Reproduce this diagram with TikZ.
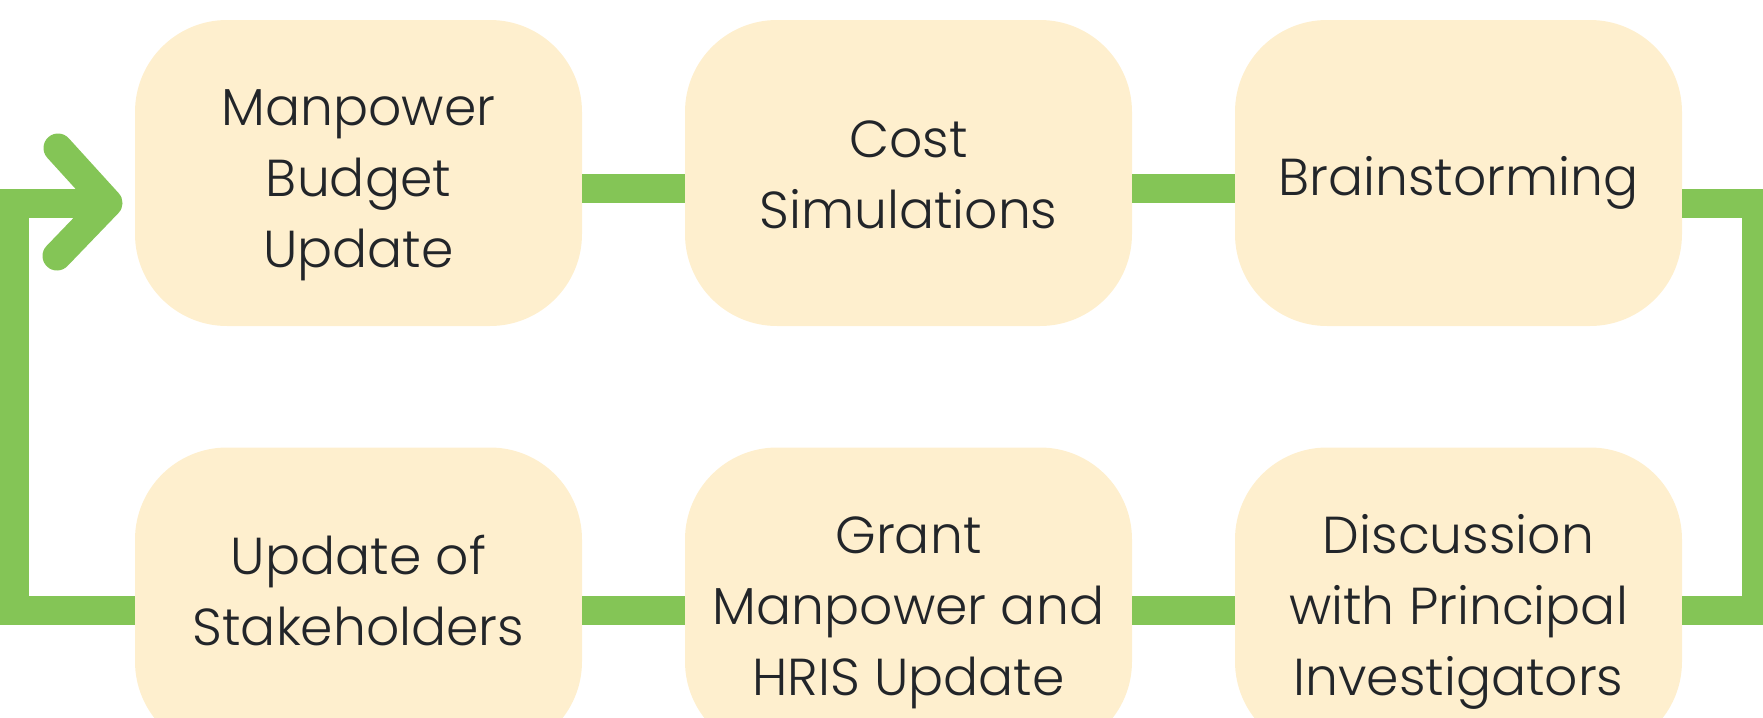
\documentclass[tikz,border=0pt]{standalone}
\usepackage{fontspec}
\setmainfont{Poppins}[UprightFont=* Light, BoldFont=* Medium]
\definecolor{flowgreen}{HTML}{84C556}
\definecolor{boxfill}{HTML}{FEEFCE}
\definecolor{boxtext}{HTML}{222529}
\begin{document}
\begin{tikzpicture}[x=0.5pt,y=-0.5pt,
  stagebox/.style={fill=boxfill, draw=none, rounded corners=46pt,
    minimum width=223.5pt, minimum height=153pt, inner sep=0pt},
  stagetext/.style={align=center, text=boxtext, inner sep=0pt,
    font=\fontsize{26pt}{35.5pt}\selectfont},
  conn/.style={draw=flowgreen, line width=14.5pt}]
\useasboundingbox (0,0) rectangle (1763,718);
\clip (0,0) rectangle (1763,718);

% stage boxes, top row left to right, bottom row left to right
\node[stagebox] (b1) at (358.5,173) {};
\node[stagebox] (b2) at (908.5,173) {};
\node[stagebox] (b3) at (1458.5,173) {};
\node[stagebox] (b4) at (358.5,600.5) {};
\node[stagebox] (b5) at (908.5,600.5) {};
\node[stagebox] (b6) at (1458.5,600.5) {};

% stage labels
\node[stagetext] (t1) at (358.5,185.5) {Manpower\\Budget\\Update};
\node[stagetext] (t2) at (908.5,175) {Cost\\Simulations};
\node[stagetext] (t3) at (1458.5,183) {Brainstorming};
\node[stagetext] (t4) at (358.5,590.5) {Update of\\Stakeholders};
\node[stagetext] (t5) at (908.5,613) {Grant\\Manpower and\\HRIS Update};
\node[stagetext] (t6) at (1458.5,611.5) {Discussion\\with Principal\\Investigators};

% arrow tip where the loop re-enters the first stage
\coordinate (tip) at (108,203);

% straight links along the rows
\draw[conn] (b1.east |- 0,188) -- (b2.west |- 0,188);
\draw[conn] (b2.east |- 0,188) -- (b3.west |- 0,188);
\draw[conn] (b4.east |- 0,610) -- (b5.west |- 0,610);
\draw[conn] (b5.east |- 0,610) -- (b6.west |- 0,610);
% right-hand return from the top row to the bottom row
\draw[conn] (b3.east |- 0,203) -- (1756,203) -- (1756,610) -- (b6.east |- 0,610);
% left-hand loop back to the first stage
\draw[conn] (b4.west |- 0,610) -- (14,610) -- (14,203) -- (tip);
\draw[conn, line cap=round, line join=round] (58,148) -- (tip) -- (57,256);
\end{tikzpicture}
\end{document}
